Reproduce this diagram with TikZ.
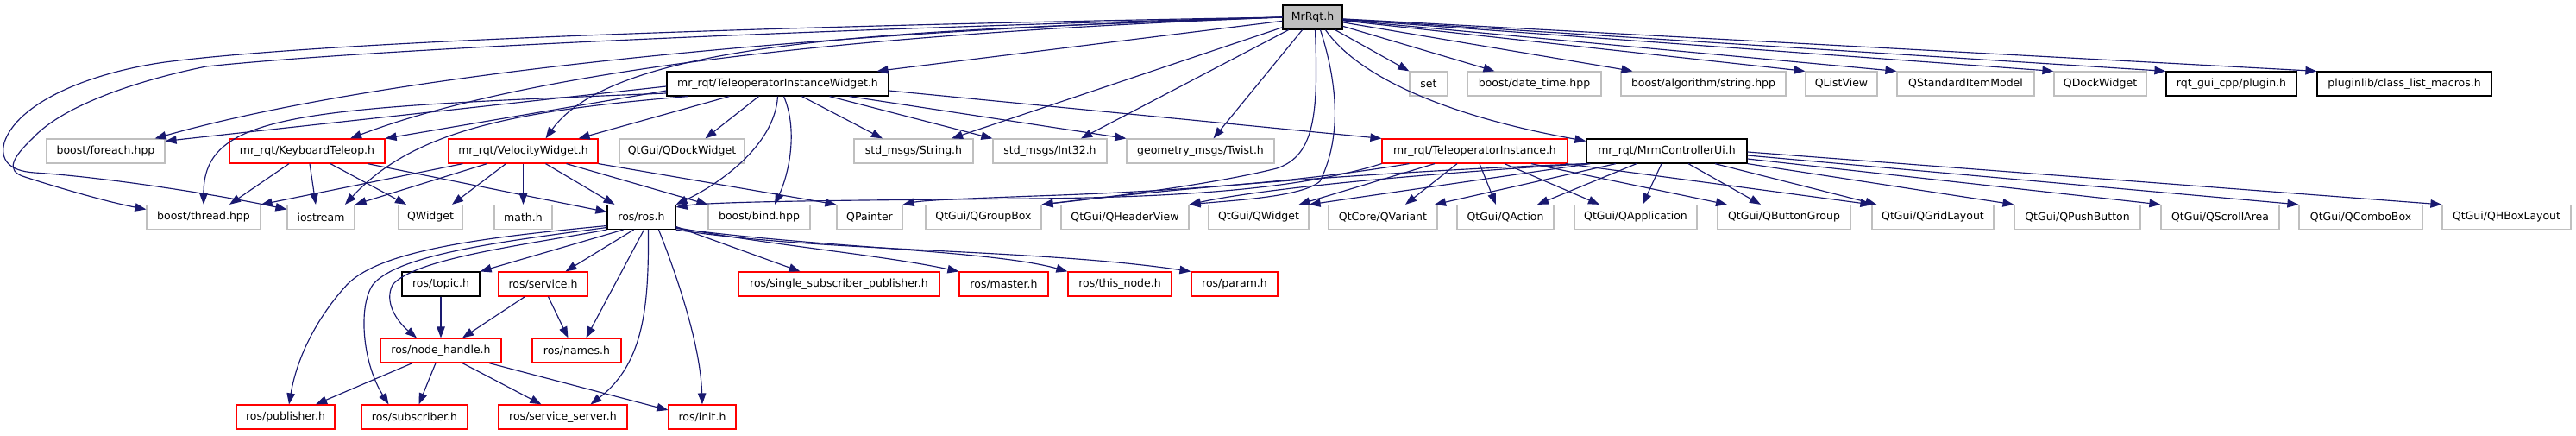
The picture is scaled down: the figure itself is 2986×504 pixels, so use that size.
\documentclass[tikz,border=0pt]{standalone}
\usepackage{fontspec}
\newfontfamily\dv{DejaVu Sans}
\usetikzlibrary{arrows.meta}
\definecolor{edgec}{HTML}{191970}
\definecolor{greyb}{HTML}{BFBFBF}
\definecolor{redb}{HTML}{FF0000}
\tikzset{
  box/.style={line width=1.2pt, inner sep=0pt, minimum height=28pt, fill=white,
    font={\dv\fontsize{12.5pt}{15pt}\selectfont}},
  gbox/.style={box, draw=greyb},
  bbox/.style={box, draw=black},
  rbox/.style={box, draw=redb},
  edge/.style={draw=edgec, line width=1.15pt, -{Triangle[length=13pt,width=9.5pt]}},
}
\begin{document}
\begin{tikzpicture}[x=1pt,y=-1pt]
\fill[white] (0,0) rectangle (2986,504);
\useasboundingbox (0,0) rectangle (2986,504);

% row 0
\node[box, draw=black, fill=greyb, minimum width=69pt] (MrRqt) at (1521.5,20) {MrRqt.h};
% row 1
\node[bbox, minimum width=257pt] (TIW) at (901.5,97) {mr\_rqt/TeleoperatorInstanceWidget.h};
\node[gbox, minimum width=44pt] (set) at (1656,97) {set};
\node[gbox, minimum width=155pt] (datetime) at (1778.5,97) {boost/date\_time.hpp};
\node[gbox, minimum width=191pt] (algstr) at (1974.5,97) {boost/algorithm/string.hpp};
\node[gbox, minimum width=83pt] (qlistview) at (2134.5,97) {QListView};
\node[gbox, minimum width=159pt] (qsim) at (2278.5,97) {QStandardItemModel};
\node[gbox, minimum width=107pt] (qdock) at (2434.5,97) {QDockWidget};
\node[bbox, minimum width=151pt] (plugin) at (2586.5,97) {rqt\_gui\_cpp/plugin.h};
\node[bbox, minimum width=202pt] (classlist) at (2787,97) {pluginlib/class\_list\_macros.h};
% row 2
\node[gbox, minimum width=137pt] (foreach) at (122.5,175) {boost/foreach.hpp};
\node[rbox, minimum width=180pt] (kbt) at (356,175) {mr\_rqt/KeyboardTeleop.h};
\node[rbox, minimum width=173pt] (velw) at (606.5,175) {mr\_rqt/VelocityWidget.h};
\node[gbox, minimum width=145pt] (qgdock) at (790.5,175) {QtGui/QDockWidget};
\node[gbox, minimum width=138pt] (stdstr) at (1059,175) {std\_msgs/String.h};
\node[gbox, minimum width=132pt] (stdint) at (1217,175) {std\_msgs/Int32.h};
\node[gbox, minimum width=171pt] (twist) at (1391.5,175) {geometry\_msgs/Twist.h};
\node[rbox, minimum width=215pt] (tinst) at (1709.5,175) {mr\_rqt/TeleoperatorInstance.h};
\node[bbox, minimum width=186pt] (mrmui) at (1932,175) {mr\_rqt/MrmControllerUi.h};
% row 3
\node[gbox, minimum width=132pt] (thread) at (236,251.5) {boost/thread.hpp};
\node[gbox, minimum width=78pt] (iostream) at (372,251.5) {iostream};
\node[gbox, minimum width=74pt] (qwidget) at (499,251.5) {QWidget};
\node[gbox, minimum width=67pt] (mathh) at (606.5,251.5) {math.h};
\node[bbox, minimum width=79pt] (ros) at (743.5,251.5) {ros/ros.h};
\node[gbox, minimum width=118pt] (bind) at (880,251.5) {boost/bind.hpp};
\node[gbox, minimum width=76pt] (qpainter) at (1008,251.5) {QPainter};
\node[gbox, minimum width=134pt] (qgroupbox) at (1140,251.5) {QtGui/QGroupBox};
\node[gbox, minimum width=148pt] (qheader) at (1304,251.5) {QtGui/QHeaderView};
\node[gbox, minimum width=116pt] (qgwidget) at (1459,251.5) {QtGui/QWidget};
\node[gbox, minimum width=126pt] (qvariant) at (1603,251.5) {QtCore/QVariant};
\node[gbox, minimum width=112pt] (qaction) at (1745,251.5) {QtGui/QAction};
\node[gbox, minimum width=142pt] (qapp) at (1896,251.5) {QtGui/QApplication};
\node[gbox, minimum width=154pt] (qbtngrp) at (2068,251.5) {QtGui/QButtonGroup};
\node[gbox, minimum width=141pt] (qgrid) at (2240.5,251.5) {QtGui/QGridLayout};
\node[gbox, minimum width=146pt] (qpush) at (2408,251.5) {QtGui/QPushButton};
\node[gbox, minimum width=137pt] (qscroll) at (2573.5,251.5) {QtGui/QScrollArea};
\node[gbox, minimum width=143pt] (qcombo) at (2736.5,251.5) {QtGui/QComboBox};
\node[gbox, minimum width=149pt] (qhbox) at (2905.5,251.5) {QtGui/QHBoxLayout};
% row 4
\node[bbox, minimum width=90pt] (topic) at (511,329) {ros/topic.h};
\node[rbox, minimum width=103pt] (service) at (629.5,329) {ros/service.h};
\node[rbox, minimum width=233pt] (ssp) at (972.5,329) {ros/single\_subscriber\_publisher.h};
\node[rbox, minimum width=103pt] (master) at (1163.5,329) {ros/master.h};
\node[rbox, minimum width=120pt] (thisnode) at (1298,329) {ros/this\_node.h};
\node[rbox, minimum width=100pt] (param) at (1431,329) {ros/param.h};
% row 5
\node[rbox, minimum width=140pt] (nodehandle) at (511,406) {ros/node\_handle.h};
\node[rbox, minimum width=103pt] (names) at (668.5,406) {ros/names.h};
% row 6
\node[rbox, minimum width=114pt] (publisher) at (331,483) {ros/publisher.h};
\node[rbox, minimum width=123pt] (subscriber) at (480.5,483) {ros/subscriber.h};
\node[rbox, minimum width=149pt] (srvserver) at (652.5,483) {ros/service\_server.h};
\node[rbox, minimum width=78pt] (init) at (814,483) {ros/init.h};

% ---- MrRqt.h
\draw[edge] (MrRqt) -- ([xshift=115pt]TIW.north);
\draw[edge] (MrRqt) -- (set.north west);
\draw[edge] (MrRqt) -- ([xshift=-46pt]datetime.north);
\draw[edge] (MrRqt) -- ([xshift=-82pt]algstr.north);
\draw[edge] (MrRqt) -- (qlistview.north west);
\draw[edge] (MrRqt) -- (qsim.north west);
\draw[edge] (MrRqt) -- (qdock.north west);
\draw[edge] (MrRqt) -- (plugin.north west);
\draw[edge] (MrRqt) -- (classlist.north west);
\draw[edge] (MrRqt) -- ([xshift=44pt]stdstr.north);
\draw[edge] (MrRqt) -- ([xshift=36pt]stdint.north);
\draw[edge] (MrRqt) -- ([xshift=15pt]twist.north);
\draw[edge] ([xshift=15pt]MrRqt.south) .. controls (1575,90) and (1680,135) .. ([yshift=-3pt]mrmui.north west);
\draw[edge] ([xshift=3pt]MrRqt.south) .. controls (1528,130) and (1525,180) .. (1480,195) .. controls (1400,215) and (1270,230) .. (qgroupbox.north east);
\draw[edge] ([xshift=9pt]MrRqt.south) .. controls (1545,80) and (1560,150) .. (1530,210) .. controls (1510,228) and (1430,232) .. (qheader.north east);
\draw[edge] (MrRqt.west) .. controls (1000,28) and (400,45) .. (191,72) .. controls (100,85) and (20,120) .. (5,165) .. controls (0,185) and (10,198) .. (40,200) .. controls (120,205) and (250,225) .. ([yshift=9pt]iostream.west);
\draw[edge] (MrRqt.west) .. controls (1000,32) and (450,55) .. (239,77) .. controls (150,95) and (70,125) .. (38,160) .. controls (15,182) and (5,198) .. (29,205) .. controls (60,215) and (120,233) .. ([yshift=9pt]thread.west);
\draw[edge] (MrRqt.west) .. controls (1100,30) and (500,70) .. ([xshift=-12pt]foreach.north east);
\draw[edge] (MrRqt.west) .. controls (1100,35) and (650,68) .. ([xshift=50pt]kbt.north);
\draw[edge] (MrRqt.west) .. controls (1100,35) and (720,38) .. ([xshift=26pt]velw.north);

% ---- TeleoperatorInstanceWidget.h
\draw[edge] ([yshift=-3pt]TIW.west) -- ([yshift=-3pt]foreach.north east);
\draw[edge] ([yshift=-8pt]TIW.west) -- (kbt.north east);
\draw[edge] ([yshift=-11pt]TIW.west) .. controls (350,125) and (236,130) .. (thread.north);
\draw[edge] ([xshift=25pt]TIW.south west) .. controls (600,128) and (480,150) .. ([xshift=28pt]iostream.north);
\draw[edge] ([xshift=73pt]TIW.south west) -- ([xshift=64pt]velw.north);
\draw[edge] ([xshift=-22pt]TIW.south) -- ([xshift=27pt]qgdock.north);
\draw[edge] (TIW.south) .. controls (898,170) and (830,215) .. (ros.north east);
\draw[edge] ([xshift=7pt]TIW.south) .. controls (925,150) and (915,200) .. ([xshift=18pt]bind.north);
\draw[edge] ([xshift=28pt]TIW.south) -- ([xshift=-36pt]stdstr.north);
\draw[edge] ([xshift=60pt]TIW.south) -- (stdint.north west);
\draw[edge] ([xshift=83pt]TIW.south) -- (twist.north west);
\draw[edge] ([yshift=-8pt]TIW.east) -- (tinst.north west);

% ---- KeyboardTeleop.h
\draw[edge] ([xshift=-21pt]kbt.south) -- ([xshift=30pt]thread.north);
\draw[edge] ([xshift=3pt]kbt.south) -- ([xshift=-6pt]iostream.north);
\draw[edge] ([xshift=27pt]kbt.south) -- ([xshift=-28pt]qwidget.north);
\draw[edge] ([xshift=70pt]kbt.south) -- ([yshift=6pt]ros.west);

% ---- VelocityWidget.h
\draw[edge] ([xshift=-70pt]velw.south) -- (thread.north east);
\draw[edge] ([xshift=-42pt]velw.south) -- (iostream.north east);
\draw[edge] ([xshift=-20pt]velw.south) -- ([xshift=25pt]qwidget.north);
\draw[edge] (velw) -- (mathh);
\draw[edge] ([xshift=26pt]velw.south) -- ([xshift=-31pt]ros.north);
\draw[edge] ([xshift=50pt]velw.south) -- (bind.north west);
\draw[edge] (velw.south east) -- (qpainter.north west);

% ---- TeleoperatorInstance.h
\draw[edge] (tinst.south west) .. controls (1520,215) and (1400,228) .. (1200,230) .. controls (1000,232) and (830,233) .. ([yshift=-3pt]ros.north east);
\draw[edge] ([xshift=32pt]tinst.south west) .. controls (1500,212) and (1350,222) .. (1200,227) .. controls (1120,230) and (1070,232) .. (qpainter.north east);
\draw[edge] ([xshift=-46.5pt]tinst.south) -- ([xshift=-12pt]qgwidget.north east);
\draw[edge] ([xshift=-20.5pt]tinst.south) -- ([xshift=26pt]qvariant.north);
\draw[edge] ([xshift=5.5pt]tinst.south) -- ([xshift=-11pt]qaction.north);
\draw[edge] ([xshift=34.5pt]tinst.south) -- ([xshift=-42pt]qapp.north);
\draw[edge] ([xshift=65.5pt]tinst.south) -- ([xshift=-66pt]qbtngrp.north);
\draw[edge] ([xshift=-3pt]tinst.south east) -- (qgrid.north west);

% ---- MrmControllerUi.h
\draw[edge] (mrmui.south west) .. controls (1700,195) and (1450,208) .. (qgroupbox.north east);
\draw[edge] ([xshift=2pt]mrmui.south west) .. controls (1700,198) and (1480,215) .. (qheader.north east);
\draw[edge] ([xshift=5pt]mrmui.south west) -- (qgwidget.north east);
\draw[edge] ([xshift=-59pt]mrmui.south) -- ([xshift=60pt]qvariant.north);
\draw[edge] ([xshift=-35pt]mrmui.south) -- ([xshift=37pt]qaction.north);
\draw[edge] ([xshift=-6pt]mrmui.south) -- ([xshift=8pt]qapp.north);
\draw[edge] ([xshift=25pt]mrmui.south) -- ([xshift=-27pt]qbtngrp.north);
\draw[edge] ([xshift=56pt]mrmui.south) -- ([xshift=6pt]qgrid.north west);
\draw[edge] (mrmui.south east) -- (qpush.north west);
\draw[edge] ([yshift=-9pt]mrmui.east) -- (qscroll.north west);
\draw[edge] ([yshift=-5pt]mrmui.east) -- (qcombo.north west);
\draw[edge] ([yshift=-1pt]mrmui.east) -- (qhbox.north west);

% ---- ros/ros.h
\draw[edge] ([xshift=-21pt]ros.south) -- (topic.north east);
\draw[edge] ([xshift=-9pt]ros.south) -- ([xshift=26pt]service.north);
\draw[edge] ([xshift=3pt]ros.south) -- ([xshift=11pt]names.north);
\draw[edge] ([xshift=8pt]ros.south) .. controls (752,350) and (748,420) .. ([xshift=32pt]srvserver.north);
\draw[edge] ([xshift=20pt]ros.south) .. controls (785,320) and (812,400) .. (init.north);
\draw[edge] (ros.south west) .. controls (600,285) and (480,300) .. (455,330) .. controls (445,350) and (460,372) .. ([xshift=-28pt]nodehandle.north);
\draw[edge] ([yshift=-12pt]ros.west) .. controls (580,280) and (460,295) .. (432,330) .. controls (415,355) and (420,420) .. ([xshift=-30pt]subscriber.north);
\draw[edge] ([yshift=-10pt]ros.west) .. controls (560,275) and (440,290) .. (402,330) .. controls (370,365) and (345,410) .. ([xshift=4pt]publisher.north);
\draw[edge] ([yshift=-11pt]ros.east) -- ([xshift=-45pt]ssp.north);
\draw[edge] ([yshift=-12pt]ros.east) .. controls (900,285) and (1020,295) .. (master.north west);
\draw[edge] ([yshift=-13pt]ros.east) .. controls (950,287) and (1150,290) .. (thisnode.north west);
\draw[edge] (ros.south east) .. controls (950,292) and (1200,288) .. (param.north west);

% ---- lower ros headers
\draw[edge] (topic) -- (nodehandle);
\draw[edge] ([xshift=-21pt]service.south) -- ([xshift=25pt]nodehandle.north);
\draw[edge] ([xshift=6pt]service.south) -- ([xshift=-10pt]names.north);
\draw[edge] ([xshift=-33pt]nodehandle.south) -- ([xshift=35pt]publisher.north);
\draw[edge] ([xshift=-6pt]nodehandle.south) -- ([xshift=5pt]subscriber.north);
\draw[edge] ([xshift=25pt]nodehandle.south) -- ([xshift=-25pt]srvserver.north);
\draw[edge] ([xshift=56pt]nodehandle.south) -- ([yshift=8pt]init.west);
\end{tikzpicture}
\end{document}
